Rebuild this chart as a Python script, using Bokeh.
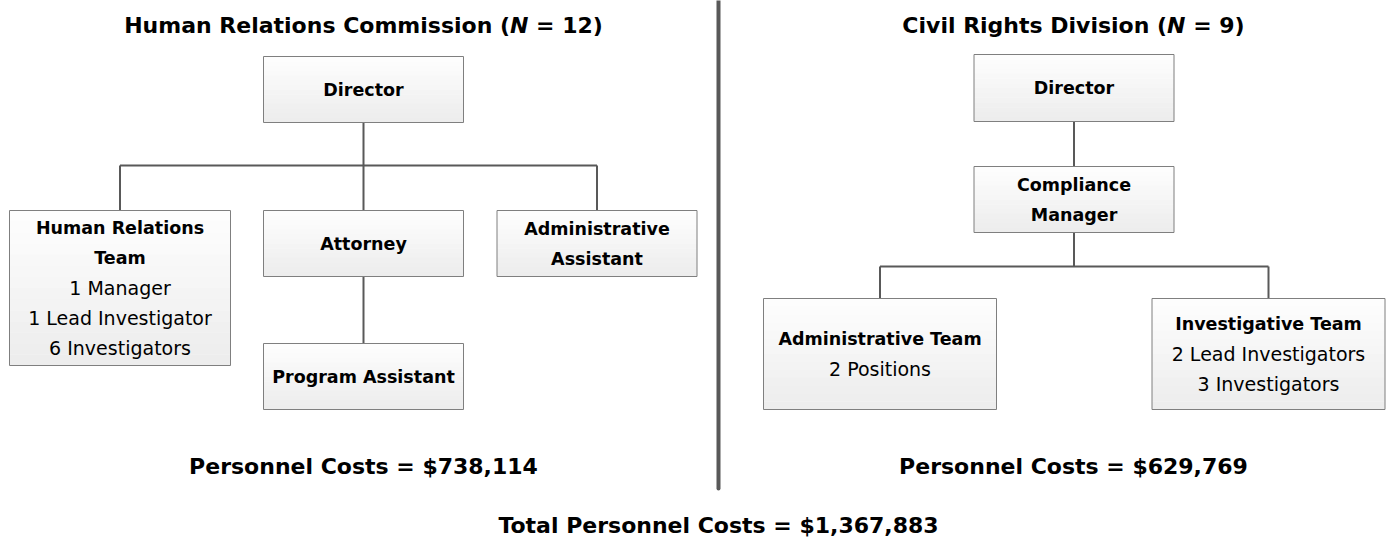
from bokeh.plotting import figure
from bokeh.models import Range1d
from bokeh.core.properties import value
from bokeh.embed import file_html
from bokeh.resources import INLINE

# ---------------- data ----------------
unit_names = ["Human Relations Commission", "Civil Rights Division"]
unit_staff = [12, 9]
unit_costs = [738114, 629769]
total_cost = 1367883

node_ids = ["hrc_dir", "hr_team", "attorney", "admin_asst", "prog_asst",
            "crd_dir", "comp_mgr", "admin_team", "inv_team"]
node_titles = [["Director"], ["Human Relations", "Team"], ["Attorney"],
               ["Administrative", "Assistant"], ["Program Assistant"],
               ["Director"], ["Compliance", "Manager"],
               ["Administrative Team"], ["Investigative Team"]]
node_details = [[], ["1 Manager", "1 Lead Investigator", "6 Investigators"], [], [], [],
                [], [], ["2 Positions"], ["2 Lead Investigators", "3 Investigators"]]
node_parent = [None, "hrc_dir", "hrc_dir", "hrc_dir", "attorney",
               None, "crd_dir", "comp_mgr", "comp_mgr"]

# ---------------- layout (pixel units) ----------------
box_layout = {  # cx, cy, w, h
    "hrc_dir": (363, 89, 200, 66),
    "hr_team": (119.5, 287.5, 221, 155),
    "attorney": (363, 243, 200, 66),
    "admin_asst": (596.5, 243, 200, 66),
    "prog_asst": (363, 376, 200, 66),
    "crd_dir": (1073.5, 87.5, 200, 67),
    "comp_mgr": (1073.5, 199, 200, 66),
    "admin_team": (879.5, 353.5, 233, 111),
    "inv_team": (1268, 353.5, 233, 111),
}
bus_y = {"hrc_dir": 165, "comp_mgr": 266}
panel_cx = [363, 1073]
title_y = 25
cost_y = 466
total_y = 525
divider_x = 718
divider_y = (0, 488)
line_step = 30

FONT = "DejaVu Sans"
TITLE_PX = 22
BOX_BOLD_PX = 17.5
BOX_REG_PX = 19


def text_width(s, size, style="bold"):
    """Width of a string in px, measured with the same font file when available."""
    try:
        from PIL import ImageFont
        fname = {"bold": "DejaVuSans-Bold.ttf",
                 "bold italic": "DejaVuSans-BoldOblique.ttf"}[style]
        f = ImageFont.truetype(fname, 100)
        return f.getlength(s) * size / 100.0
    except Exception:
        return 0.62 * len(s) * size


W, H = 1387, 539
p = figure(width=W, height=H, output_backend="svg", toolbar_location=None,
           x_range=Range1d(0, W), y_range=Range1d(H, 0),
           min_border=0)
p.axis.visible = False
p.grid.visible = False
p.outline_line_color = None
p.background_fill_color = "white"
p.border_fill_color = "white"

# connectors
xs, ys = [], []
children = {}
for n, par in zip(node_ids, node_parent):
    if par:
        children.setdefault(par, []).append(n)
for par, kids in children.items():
    pcx, pcy, pw, ph = box_layout[par]
    pbot = pcy + ph / 2
    if len(kids) == 1:
        k = kids[0]
        kcx, kcy, kw, kh = box_layout[k]
        xs.append([pcx, pcx]); ys.append([pbot, kcy - kh / 2])
    else:
        by = bus_y[par]
        xs.append([pcx, pcx]); ys.append([pbot, by])
        kx = [box_layout[k][0] for k in kids]
        xs.append([min(kx), max(kx)]); ys.append([by, by])
        for k in kids:
            kcx, kcy, kw, kh = box_layout[k]
            xs.append([kcx, kcx]); ys.append([by, kcy - kh / 2])
p.multi_line(xs, ys, line_color="#595959", line_width=2)

# divider
p.line([divider_x, divider_x], list(divider_y), line_color="#595959", line_width=4, line_cap="round")

# boxes: light vertical gradient (white -> light grey) + grey border
NB = 14
gl, gr, gt, gb, gc = [], [], [], [], []
L, R, T, B = [], [], [], []
for n in node_ids:
    cx, cy, w, h = box_layout[n]
    top = cy - h / 2
    L.append(cx - w / 2); R.append(cx + w / 2); T.append(top); B.append(cy + h / 2)
    for k in range(NB):
        f = (k + 0.5) / NB
        g = int(round(254 - f * (254 - 236)))
        gl.append(cx - w / 2); gr.append(cx + w / 2)
        gt.append(top + h * k / NB); gb.append(top + h * (k + 1) / NB + 0.3)
        gc.append("#%02x%02x%02x" % (g, g, g))
p.quad(left=gl, right=gr, top=gt, bottom=gb, fill_color=gc, line_color=None)
p.quad(left=L, right=R, top=T, bottom=B, fill_color=None,
       line_color="#7f7f7f", line_width=1)

# box texts
bx, by_, bt = [], [], []
rx, ry, rt = [], [], []
for n, titles, details in zip(node_ids, node_titles, node_details):
    cx, cy, w, h = box_layout[n]
    lines = titles + details
    y0 = cy - (len(lines) - 1) * line_step / 2
    for j, t in enumerate(lines):
        if j < len(titles):
            bx.append(cx); by_.append(y0 + j * line_step); bt.append(t)
        else:
            rx.append(cx); ry.append(y0 + j * line_step); rt.append(t)
p.text(bx, by_, text=bt, text_font=value(FONT), text_font_style="bold",
       text_font_size="%gpx" % BOX_BOLD_PX, text_align="center", text_baseline="middle",
       text_color="black")
p.text(rx, ry, text=rt, text_font=value(FONT), text_font_size="%gpx" % BOX_REG_PX,
       text_align="center", text_baseline="middle", text_color="black")

# panel titles with italic N
for name, n, cx in zip(unit_names, unit_staff, panel_cx):
    left = name + " ("
    rest = "= %d)" % n
    wl = text_width(left, TITLE_PX)
    wn = text_width("N", TITLE_PX, "bold italic")
    ws = text_width(" ", TITLE_PX)
    wr = text_width(rest, TITLE_PX)
    x0 = cx - (wl + wn + ws + wr) / 2
    p.text([x0], [title_y], text=[left], text_font=value(FONT), text_font_style="bold",
           text_font_size="%gpx" % TITLE_PX, text_align="left", text_baseline="middle",
           text_color="black")
    p.text([x0 + wl], [title_y], text=["N"], text_font=value(FONT), text_font_style="bold italic",
           text_font_size="%gpx" % TITLE_PX, text_align="left", text_baseline="middle",
           text_color="black")
    p.text([x0 + wl + wn + ws], [title_y], text=[rest], text_font=value(FONT), text_font_style="bold",
           text_font_size="%gpx" % TITLE_PX, text_align="left", text_baseline="middle",
           text_color="black")

# costs
p.text(panel_cx, [cost_y] * 2, text=["Personnel Costs = ${:,}".format(c) for c in unit_costs],
       text_font=value(FONT), text_font_style="bold", text_font_size="%gpx" % TITLE_PX,
       text_align="center", text_baseline="middle", text_color="black")
p.text([divider_x], [total_y], text=["Total Personnel Costs = ${:,}".format(total_cost)],
       text_font=value(FONT), text_font_style="bold", text_font_size="%gpx" % TITLE_PX,
       text_align="center", text_baseline="middle", text_color="black")

open("out.html", "w").write(file_html(p, INLINE))
